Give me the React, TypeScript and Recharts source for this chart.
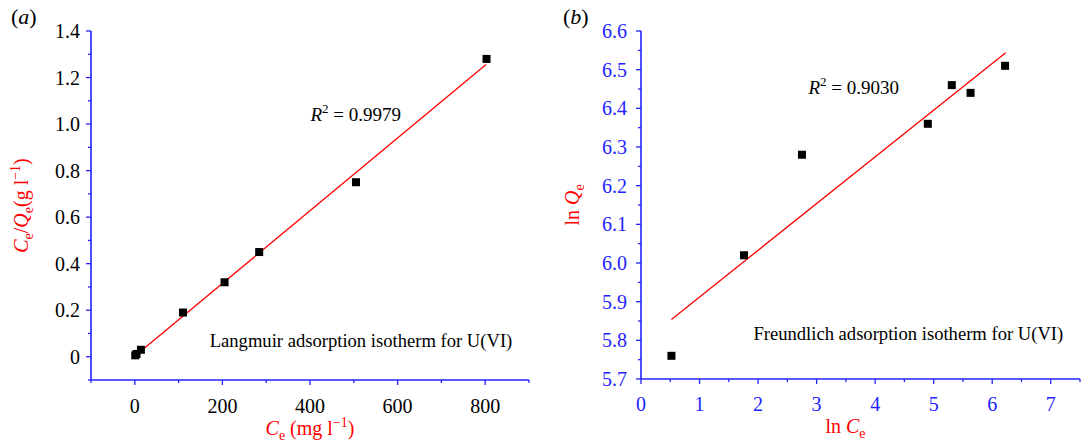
import React from 'react';
import { ScatterChart, Scatter, XAxis, YAxis, ReferenceDot } from 'recharts';

// panel (a): Langmuir
const langCe = [1, 4, 14, 110, 205, 284, 505, 803];
const langRatio = [0.006, 0.012, 0.03, 0.19, 0.32, 0.45, 0.75, 1.28];
const langFitCe = [1, 802];
const langFitRatio = [0.004, 1.256];
const langXTicks = [-100, 0, 100, 200, 300, 400, 500, 600, 700, 800, 900];
const langXLabels = [0, 200, 400, 600, 800];
const langYTicks = [-0.1, 0, 0.1, 0.2, 0.3, 0.4, 0.5, 0.6, 0.7, 0.8, 0.9, 1.0, 1.1, 1.2, 1.3, 1.4];
const langYLabels = [0, 0.2, 0.4, 0.6, 0.8, 1.0, 1.2, 1.4];

// panel (b): Freundlich
const freLnCe = [0.52, 1.76, 2.75, 4.9, 5.31, 5.63, 6.22];
const freLnQe = [5.76, 6.02, 6.28, 6.36, 6.46, 6.44, 6.51];
const freFitLnCe = [0.52, 6.23];
const freFitLnQe = [5.854, 6.544];
const freXTicks = [0, 0.5, 1, 1.5, 2, 2.5, 3, 3.5, 4, 4.5, 5, 5.5, 6, 6.5, 7, 7.5];
const freXLabels = [0, 1, 2, 3, 4, 5, 6, 7];
const freYTicks = [5.7, 5.75, 5.8, 5.85, 5.9, 5.95, 6.0, 6.05, 6.1, 6.15, 6.2, 6.25, 6.3, 6.35, 6.4, 6.45, 6.5, 6.55, 6.6];
const freYLabels = [5.7, 5.8, 5.9, 6.0, 6.1, 6.2, 6.3, 6.4, 6.5, 6.6];

const BLUE = '#2323ff';
const RED = '#ff0000';
const FONT = '"Liberation Serif", "Times New Roman", serif';

const zip = (xs: number[], ys: number[]) => xs.map((x, i) => ({ x, y: ys[i] }));
const isMajor = (v: number, labels: number[]) => labels.some((l) => Math.abs(l - v) < 1e-6);

const BottomTick = (p: any) => {
  const { x, y, payload, labels, fmt, color, gap } = p;
  const major = isMajor(payload.value, labels);
  return (
    <g>
      <line x1={x} y1={y} x2={x} y2={y + (major ? 5 : 3)} stroke={BLUE} strokeWidth={1.3} />
      {major && (
        <text x={x} y={y + gap} textAnchor="middle" fill={color} fontSize={20} fontFamily={FONT}>
          {fmt(payload.value)}
        </text>
      )}
    </g>
  );
};

const LeftTick = (p: any) => {
  const { x, y, payload, labels, fmt, color, gap } = p;
  const major = isMajor(payload.value, labels);
  return (
    <g>
      <line x1={x} y1={y} x2={x - (major ? 5 : 3)} y2={y} stroke={BLUE} strokeWidth={1.3} />
      {major && (
        <text x={x - gap} y={y + 7} textAnchor="end" fill={color} fontSize={20} fontFamily={FONT}>
          {fmt(payload.value)}
        </text>
      )}
    </g>
  );
};

// ticks on the top / right frame point inward
const TopTick = (p: any) => {
  const major = isMajor(p.payload.value, p.labels);
  return <line x1={p.x} y1={p.y} x2={p.x} y2={p.y + (major ? 4 : 2.5)} stroke={BLUE} strokeWidth={1.2} />;
};
const RightTick = (p: any) => {
  const major = isMajor(p.payload.value, p.labels);
  return <line x1={p.x} y1={p.y} x2={p.x - (major ? 4 : 2.5)} y2={p.y} stroke={BLUE} strokeWidth={1.2} />;
};

const Square = (p: any) => <rect x={p.cx - 4} y={p.cy - 4} width={8} height={8} fill="#000" />;
const NoDot = () => <g />;

const sub = { fontSize: 14, dy: 5 };

const TitleAX = (p: any) => {
  const vb = p.viewBox;
  return (
    <text x={vb.x + vb.width / 2} y={vb.y + 55} textAnchor="middle" fill={RED} fontSize={20} fontFamily={FONT}>
      <tspan fontStyle="italic">C</tspan>
      <tspan {...sub}>e</tspan>
      <tspan dy={-5}> (mg l</tspan>
      <tspan fontSize={14} dy={-8}>−1</tspan>
      <tspan dy={8}>)</tspan>
    </text>
  );
};

const TitleAY = (p: any) => {
  const vb = p.viewBox;
  const cy = vb.y + vb.height / 2;
  return (
    <text transform={`translate(28,${cy}) rotate(-90)`} textAnchor="middle" fill={RED} fontSize={20} fontFamily={FONT}>
      <tspan fontStyle="italic">C</tspan>
      <tspan {...sub}>e</tspan>
      <tspan dy={-5}>/</tspan>
      <tspan fontStyle="italic">Q</tspan>
      <tspan {...sub}>e</tspan>
      <tspan dy={-5}>(g l</tspan>
      <tspan fontSize={14} dy={-8}>−1</tspan>
      <tspan dy={8}>)</tspan>
    </text>
  );
};

const TitleBX = (p: any) => {
  const vb = p.viewBox;
  return (
    <text x={vb.x + vb.width / 2 - 15} y={vb.y + 54} textAnchor="middle" fill={RED} fontSize={20} fontFamily={FONT}>
      <tspan>ln </tspan>
      <tspan fontStyle="italic">C</tspan>
      <tspan {...sub}>e</tspan>
    </text>
  );
};

const TitleBY = (p: any) => {
  const vb = p.viewBox;
  const cy = vb.y + vb.height / 2;
  return (
    <text transform={`translate(39,${cy}) rotate(-90)`} textAnchor="middle" fill={RED} fontSize={20} fontFamily={FONT}>
      <tspan>ln </tspan>
      <tspan fontStyle="italic">Q</tspan>
      <tspan {...sub}>e</tspan>
    </text>
  );
};

const Note = (p: any) => {
  const vb = p.viewBox;
  return (
    <text x={vb.x} y={vb.y} fill="#000" fontSize={18.6} fontFamily={FONT}>
      {p.text}
    </text>
  );
};

const RSquared = (p: any) => {
  const vb = p.viewBox;
  return (
    <text x={vb.x} y={vb.y} fill="#000" fontSize={19} fontFamily={FONT}>
      <tspan fontStyle="italic">R</tspan>
      <tspan fontSize={13} dy={-8}>2</tspan>
      <tspan dy={8}> = {p.value}</tspan>
    </text>
  );
};

const PanelTag = ({ x, letter }: { x: number; letter: string }) => (
  <div style={{ position: 'absolute', left: x, top: 4, fontFamily: FONT, fontSize: 22, color: '#000' }}>
    (<i>{letter}</i>)
  </div>
);

const fmtInt = (v: number) => String(v);
const fmtA = (v: number) => (v === 0 ? '0' : v.toFixed(1));
const fmtB = (v: number) => v.toFixed(1);

export default function App() {
  const langPoints = zip(langCe, langRatio);
  const langFit = zip(langFitCe, langFitRatio);
  const frePoints = zip(freLnCe, freLnQe);
  const freFit = zip(freFitLnCe, freFitLnQe);
  const axisLine = { stroke: BLUE, strokeWidth: 1.6 };

  return (
    <div style={{ position: 'absolute', left: 0, top: 0, width: 1081, height: 446, background: '#fff' }}>
      <PanelTag x={11} letter="a" />
      <PanelTag x={563} letter="b" />
      <div style={{ position: 'absolute', left: 0, top: 0 }}>
        <ScatterChart width={540} height={446} margin={{ top: 31, right: 11, bottom: 0, left: 0 }}>
          <XAxis
            type="number" dataKey="x" domain={[-100, 900]} ticks={langXTicks} interval={0}
            height={66} tickSize={0} tickMargin={0} tickLine={false} axisLine={axisLine}
            tick={(p: any) => <BottomTick {...p} labels={langXLabels} fmt={fmtInt} color="#000" gap={33} />}
            label={<TitleAX />}
          />
          <XAxis
            xAxisId="top" orientation="top" type="number" domain={[-100, 900]} ticks={langXTicks} interval={0}
            height={0} tickSize={0} tickMargin={0} tickLine={false} axisLine={axisLine}
            tick={(p: any) => <TopTick {...p} labels={langXLabels} />}
          />
          <YAxis
            type="number" dataKey="y" domain={[-0.1, 1.4]} ticks={langYTicks} interval={0}
            width={91} tickSize={0} tickMargin={0} tickLine={false} axisLine={axisLine}
            tick={(p: any) => <LeftTick {...p} labels={langYLabels} fmt={fmtA} color="#000" gap={11} />}
            label={<TitleAY />}
          />
          <YAxis
            yAxisId="right" orientation="right" type="number" domain={[-0.1, 1.4]} ticks={langYTicks} interval={0}
            width={0} tickSize={0} tickMargin={0} tickLine={false} axisLine={axisLine}
            tick={(p: any) => <RightTick {...p} labels={langYLabels} />}
          />
          <Scatter data={langFit} line={{ stroke: RED, strokeWidth: 1.3 }} shape={NoDot} isAnimationActive={false} />
          <Scatter data={langPoints} shape={Square} isAnimationActive={false} />
          <ReferenceDot x={401} y={1.012} r={0} fill="none" stroke="none" label={<RSquared value="0.9979" />} />
          <ReferenceDot x={171} y={0.04} r={0} fill="none" stroke="none" label={<Note text="Langmuir adsorption isotherm for U(VI)" />} />
        </ScatterChart>
      </div>
      <div style={{ position: 'absolute', left: 540, top: 0 }}>
        <ScatterChart width={541} height={446} margin={{ top: 31, right: 1, bottom: 0, left: 0 }}>
          <XAxis
            type="number" dataKey="x" domain={[0, 7.5]} ticks={freXTicks} interval={0}
            height={67} tickSize={0} tickMargin={0} tickLine={false} axisLine={axisLine}
            tick={(p: any) => <BottomTick {...p} labels={freXLabels} fmt={fmtInt} color={BLUE} gap={32} />}
            label={<TitleBX />}
          />
          <XAxis
            xAxisId="top" orientation="top" type="number" domain={[0, 7.5]} ticks={freXTicks} interval={0}
            height={0} tickSize={0} tickMargin={0} tickLine={false} axisLine={axisLine}
            tick={(p: any) => <TopTick {...p} labels={freXLabels} />}
          />
          <YAxis
            type="number" dataKey="y" domain={[5.7, 6.6]} ticks={freYTicks} interval={0}
            width={101} tickSize={0} tickMargin={0} tickLine={false} axisLine={axisLine}
            tick={(p: any) => <LeftTick {...p} labels={freYLabels} fmt={fmtB} color={BLUE} gap={14} />}
            label={<TitleBY />}
          />
          <YAxis
            yAxisId="right" orientation="right" type="number" domain={[5.7, 6.6]} ticks={freYTicks} interval={0}
            width={0} tickSize={0} tickMargin={0} tickLine={false} axisLine={axisLine}
            tick={(p: any) => <RightTick {...p} labels={freYLabels} />}
          />
          <Scatter data={freFit} line={{ stroke: RED, strokeWidth: 1.3 }} shape={NoDot} isAnimationActive={false} />
          <Scatter data={frePoints} shape={Square} isAnimationActive={false} />
          <ReferenceDot x={2.86} y={6.436} r={0} fill="none" stroke="none" label={<RSquared value="0.9030" />} />
          <ReferenceDot x={1.92} y={5.8} r={0} fill="none" stroke="none" label={<Note text="Freundlich adsorption isotherm for U(VI)" />} />
        </ScatterChart>
      </div>
    </div>
  );
}
